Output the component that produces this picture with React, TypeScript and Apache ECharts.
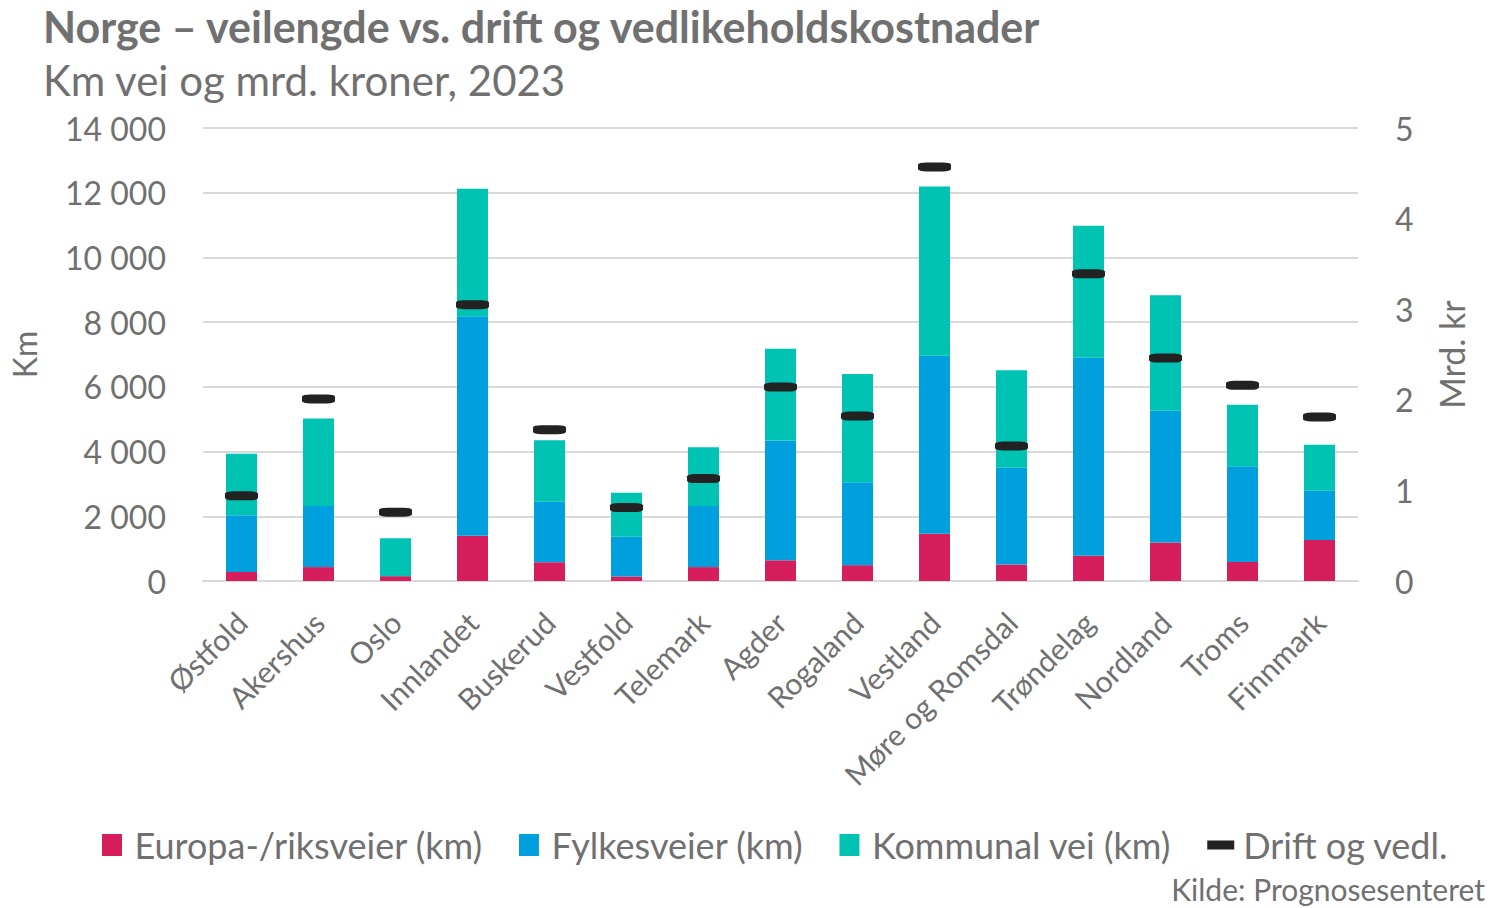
import React, { useEffect, useRef } from "react";
import * as echarts from "echarts";

const categories = [
  "Østfold", "Akershus", "Oslo", "Innlandet", "Buskerud", "Vestfold", "Telemark", "Agder",
  "Rogaland", "Vestland", "Møre og Romsdal", "Trøndelag", "Nordland", "Troms", "Finnmark",
];
const europaRiks = [280, 430, 150, 1400, 580, 140, 430, 640, 490, 1460, 510, 780, 1190, 590, 1270];
const fylkes = [1750, 1890, 0, 6780, 1870, 1230, 1890, 3700, 2560, 5500, 2990, 6120, 4070, 2960, 1520];
const kommunal = [1905, 2700, 1170, 3940, 1900, 1360, 1810, 2840, 3350, 5230, 3010, 4080, 3570, 1900, 1420];
const drift = [0.94, 2.01, 0.76, 3.05, 1.67, 0.81, 1.13, 2.14, 1.82, 4.57, 1.49, 3.39, 2.46, 2.16, 1.81];

const FONT = "Lato";
const GREY = "#707070";

export default function App() {
  const ref = useRef<HTMLDivElement>(null);
  useEffect(() => {
    document.body.style.margin = "0";
    const chart = echarts.init(ref.current!, null, { renderer: "svg" });
    const fmt = (v: number) => String(v).replace(/\B(?=(\d{3})+(?!\d))/g, " ");
    const sq = "path://M0,0h20v22h-20z";
    chart.setOption({
      animation: false,
      textStyle: { fontFamily: FONT, color: GREY },
      title: [
        {
          text: "Norge – veilengde vs. drift og vedlikeholdskostnader",
          left: 38, top: 0,
          textStyle: { fontFamily: FONT, fontWeight: "bold", fontSize: 43, color: GREY },
        },
        {
          text: "Km vei og mrd. kroner, 2023",
          left: 38, top: 54,
          textStyle: { fontFamily: FONT, fontWeight: "normal", fontSize: 42, color: GREY },
        },
        {
          text: "Kilde: Prognosesenteret",
          right: 6, top: 869,
          textStyle: { fontFamily: FONT, fontWeight: "normal", fontSize: 30, color: GREY },
        },
      ],
      grid: { left: 200, right: 138, top: 128, bottom: 327, containLabel: false },
      legend: {
        top: 822, left: 97,
        itemWidth: 27, itemHeight: 22, itemGap: 36, symbolKeepAspect: true,
        textStyle: { fontFamily: FONT, fontSize: 36, color: GREY, padding: [0, 0, 0, 4] },
        data: [
          { name: "Europa-/riksveier (km)", icon: sq },
          { name: "Fylkesveier (km)", icon: sq },
          { name: "Kommunal vei (km)", icon: sq },
          { name: "Drift og vedl.", icon: "path://M0,-6.5h0.01v22h-0.01z M0,0h27v9h-27z" },
        ],
      },
      xAxis: {
        type: "category",
        data: categories,
        axisTick: { show: false },
        axisLine: { lineStyle: { color: "#D9D9D9", width: 2 } },
        axisLabel: { rotate: 45, fontSize: 30, color: GREY, fontFamily: FONT, margin: 36, interval: 0 },
      },
      yAxis: [
        {
          type: "value", min: 0, max: 14000, interval: 2000,
          name: "Km", nameLocation: "middle", nameGap: 163, nameRotate: 90,
          nameTextStyle: { fontSize: 32, color: GREY, fontFamily: FONT },
          axisLabel: { formatter: fmt, fontSize: 32, color: GREY, fontFamily: FONT, margin: 37 },
          splitLine: { lineStyle: { color: "#D9D9D9", width: 2 } },
          axisLine: { show: false }, axisTick: { show: false },
        },
        {
          type: "value", min: 0, max: 5, interval: 1,
          name: "Mrd. kr", nameLocation: "middle", nameGap: 76, nameRotate: 90,
          nameTextStyle: { fontSize: 34, color: GREY, fontFamily: FONT },
          axisLabel: { fontSize: 32, color: GREY, fontFamily: FONT, margin: 37 },
          splitLine: { show: false },
          axisLine: { show: false }, axisTick: { show: false },
        },
      ],
      series: [
        { name: "Europa-/riksveier (km)", type: "bar", stack: "km", data: europaRiks, barWidth: 31, itemStyle: { color: "#D51E5B" } },
        { name: "Fylkesveier (km)", type: "bar", stack: "km", data: fylkes, barWidth: 31, itemStyle: { color: "#00A0DF" } },
        { name: "Kommunal vei (km)", type: "bar", stack: "km", data: kommunal, barWidth: 31, itemStyle: { color: "#00C3B3" } },
        {
          name: "Drift og vedl.", type: "scatter", yAxisIndex: 1, data: drift,
          symbol: "roundRect", symbolSize: [33, 9], z: 5,
          itemStyle: { color: "#222222", opacity: 1 },
        },
      ],
    });
    return () => chart.dispose();
  }, []);
  return <div ref={ref} style={{ width: 1496, height: 908 }} />;
}
